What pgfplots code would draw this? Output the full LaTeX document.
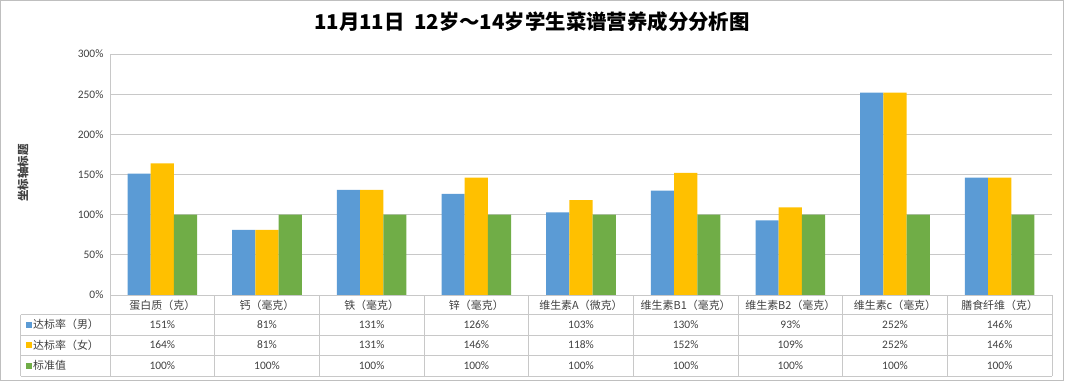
\documentclass[border=0pt]{standalone}
\usepackage{fontspec}
\usepackage{pgfplots}
\pgfplotsset{compat=1.18}
\setmainfont{Noto Sans CJK SC}
\newfontfamily\num{Carlito}
\definecolor{cBlue}{HTML}{5B9BD5}
\definecolor{cOrange}{HTML}{FFC000}
\definecolor{cGreen}{HTML}{70AD47}
\definecolor{cGrid}{HTML}{C8C8C8}
\definecolor{cText}{HTML}{404040}
\definecolor{cBorder}{HTML}{BFBFBF}
\begin{document}
\begin{tikzpicture}[x=1bp,y=1bp]
\useasboundingbox (0,0) rectangle (1065,-382);
\draw[cBorder, line width=1bp] (0.5,-0.5) rectangle (1063.5,-380.5);
\begin{axis}[
  at={(110bp,-295bp)}, anchor=south west,
  scale only axis, width=942bp, height=241bp,
  ybar=0pt, bar width=23.2bp,
  xmin=-0.5, xmax=8.5, ymin=0, ymax=300,
  ytick={0,50,...,300},
  /pgf/number format/assume math mode=true,
  yticklabel={\num\pgfmathprintnumber{\tick}\%},
  yticklabel style={font=\fontsize{11.5}{13}\selectfont\num, text=cText, xshift=-3bp},
  xtick={0,...,8},
  xticklabels={蛋白质（克）,钙（毫克）,铁（毫克）,锌（毫克）,维生素A（微克）,维生素B1（毫克）,维生素B2（毫克）,维生素c（毫克）,膳食纤维（克）},
  xticklabel style={font=\fontsize{11}{13}\selectfont, text=cText, anchor=center, yshift=-10bp},
  major tick length=0pt,
  ymajorgrids, grid style={cGrid, line width=0.8bp},
  axis line style={draw=none},
  axis x line*=bottom, axis y line*=left,
  clip=false,
]
\addplot[fill=cBlue, draw=none] coordinates {(0,151) (1,81) (2,131) (3,126) (4,103) (5,130) (6,93) (7,252) (8,146)};
\addplot[fill=cOrange, draw=none] coordinates {(0,164) (1,81) (2,131) (3,146) (4,118) (5,152) (6,109) (7,252) (8,146)};
\addplot[fill=cGreen, draw=none] coordinates {(0,100) (1,100) (2,100) (3,100) (4,100) (5,100) (6,100) (7,100) (8,100)};
\end{axis}
% data table
\draw[cGrid, line width=0.8bp] (110,-295) -- (1052,-295);
\draw[cGrid, line width=0.8bp] (110,-54) -- (110,-376);
\foreach \y in {-314.5,-335,-355.5,-376} \draw[cGrid, line width=0.8bp] (20.5,\y) -- (1052,\y);
\draw[cGrid, line width=0.8bp] (20.5,-314.5) -- (20.5,-376);
\foreach \k in {1,...,9} \draw[cGrid, line width=0.8bp] ({110+\k*104.667},-295) -- ({110+\k*104.667},-376);
\fill[cBlue] (26,-321.5) rectangle (32,-327.5);
\fill[cOrange] (26,-342) rectangle (32,-348);
\fill[cGreen] (26,-362.5) rectangle (32,-368.5);
\node[anchor=west, font=\fontsize{11}{13}\selectfont, text=cText, inner sep=0pt] at (33,-324.5) {达标率（男）};
\node[anchor=west, font=\fontsize{11}{13}\selectfont, text=cText, inner sep=0pt] at (33,-345) {达标率（女）};
\node[anchor=west, font=\fontsize{11}{13}\selectfont, text=cText, inner sep=0pt] at (33,-365.5) {标准值};
\foreach \v [count=\i from 0] in {151,81,131,126,103,130,93,252,146}
  \node[font=\fontsize{11.5}{13}\selectfont\num, text=cText] at ({110+(\i+0.5)*104.667},-324.5) {\v\%};
\foreach \v [count=\i from 0] in {164,81,131,146,118,152,109,252,146}
  \node[font=\fontsize{11.5}{13}\selectfont\num, text=cText] at ({110+(\i+0.5)*104.667},-345) {\v\%};
\foreach \v [count=\i from 0] in {100,100,100,100,100,100,100,100,100}
  \node[font=\fontsize{11.5}{13}\selectfont\num, text=cText] at ({110+(\i+0.5)*104.667},-365.5) {\v\%};
% titles
\node[font=\fontsize{20.5}{24}\selectfont\bfseries, text=black] at (532,-22) {11月11日\ \ 12岁～14岁学生菜谱营养成分分析图};
\node[font=\fontsize{11.5}{13}\selectfont\bfseries, text=cText, rotate=90] at (23,-173) {坐标轴标题};
\end{tikzpicture}
\end{document}
